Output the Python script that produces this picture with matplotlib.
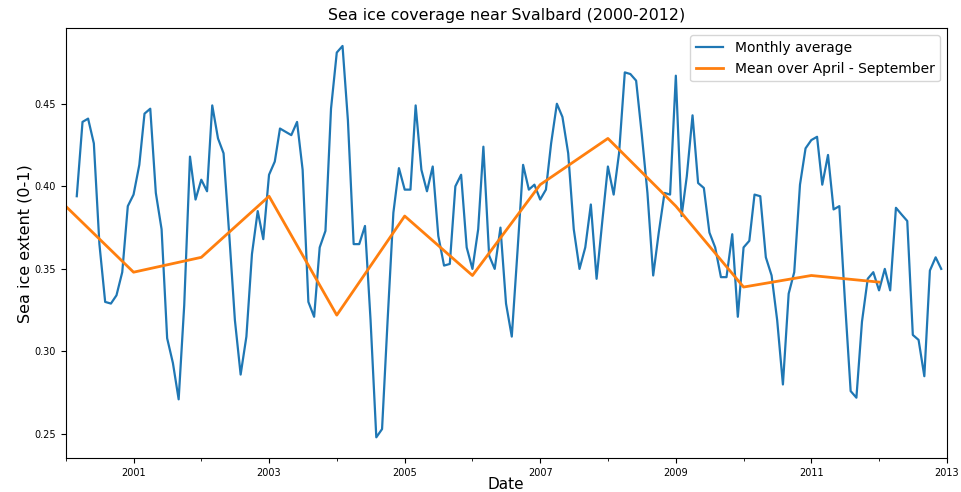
import matplotlib
matplotlib.use('Agg')
import matplotlib.pyplot as plt
import matplotlib.dates as mdates
import pandas as pd
import datetime

# monthly average sea ice extent, Mar 2000 - Dec 2012
monthly = [
    0.394, 0.439, 0.441, 0.426, 0.365, 0.330, 0.329, 0.334, 0.348, 0.388,
    0.395, 0.413, 0.444, 0.447, 0.396, 0.374, 0.308, 0.293, 0.271, 0.328, 0.418, 0.392,
    0.404, 0.397, 0.449, 0.429, 0.420, 0.370, 0.319, 0.286, 0.309, 0.359, 0.385, 0.368,
    0.407, 0.415, 0.435, 0.433, 0.431, 0.439, 0.410, 0.330, 0.321, 0.363, 0.373, 0.447,
    0.481, 0.485, 0.440, 0.365, 0.365, 0.376, 0.319, 0.248, 0.253, 0.319, 0.384, 0.411,
    0.398, 0.398, 0.449, 0.410, 0.397, 0.412, 0.370, 0.352, 0.353, 0.400, 0.407, 0.363,
    0.350, 0.374, 0.424, 0.358, 0.350, 0.375, 0.329, 0.309, 0.361, 0.413, 0.398, 0.401,
    0.392, 0.398, 0.426, 0.450, 0.442, 0.420, 0.374, 0.350, 0.363, 0.389, 0.344, 0.378,
    0.412, 0.395, 0.420, 0.469, 0.468, 0.464, 0.432, 0.396, 0.346, 0.372, 0.396, 0.395,
    0.467, 0.382, 0.406, 0.443, 0.402, 0.399, 0.372, 0.363, 0.345, 0.345, 0.371, 0.321,
    0.363, 0.367, 0.395, 0.394, 0.357, 0.346, 0.319, 0.280, 0.335, 0.348, 0.401, 0.423,
    0.428, 0.430, 0.401, 0.419, 0.386, 0.388, 0.331, 0.276, 0.272, 0.318, 0.344, 0.348,
    0.337, 0.350, 0.337, 0.387, 0.383, 0.379, 0.310, 0.307, 0.285, 0.349, 0.357, 0.350,
]
monthly_start = '2000-03-01'

# mean over April - September, one value per year
years = list(range(2000, 2013))
summer_mean = [0.388, 0.348, 0.357, 0.394, 0.322, 0.382, 0.346,
               0.401, 0.429, 0.388, 0.339, 0.346, 0.342]

month_dates = pd.date_range(monthly_start, periods=len(monthly), freq='MS')
year_dates = [datetime.datetime(y, 1, 1) for y in years]

fig = plt.figure(figsize=(9.61, 4.92), dpi=100)
ax = fig.add_axes([0.0683, 0.0685, 0.9171, 0.874])

ax.plot(month_dates, monthly, color='#1f77b4', lw=1.6, label='Monthly average')
ax.plot(year_dates, summer_mean, color='#ff7f0e', lw=2.0, label='Mean over April - September')

ax.set_xlim(datetime.datetime(2000, 1, 1), datetime.datetime(2013, 1, 1))
ax.set_ylim(0.2353, 0.4957)

# labelled ticks on odd years, small ticks every year
ax.set_xticks([datetime.datetime(y, 1, 1) for y in range(2001, 2014, 2)])
ax.xaxis.set_major_formatter(mdates.DateFormatter('%Y'))
ax.xaxis.set_minor_locator(mdates.YearLocator(1))
ax.set_yticks([0.25, 0.30, 0.35, 0.40, 0.45])
ax.tick_params(axis='both', which='major', labelsize=7)

ax.set_title('Sea ice coverage near Svalbard (2000-2012)', fontsize=11.4)
ax.set_xlabel('Date', fontsize=11, labelpad=-1)
ax.set_ylabel('Sea ice extent (0-1)', fontsize=11.5, labelpad=1)

ax.legend(loc='upper right', fontsize=10)

fig.savefig('out.png', dpi=100)
